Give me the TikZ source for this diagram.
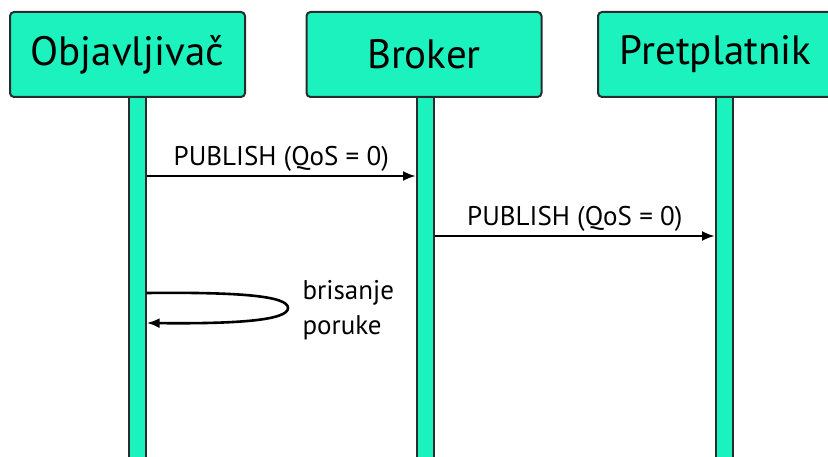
\documentclass[tikz,border=0pt]{standalone}
\usepackage{fontspec}
\setmainfont{PT Sans}
\usetikzlibrary{arrows.meta}
\definecolor{boxteal}{RGB}{28,242,190}
\definecolor{edge}{RGB}{40,44,44}
\begin{document}
\begin{tikzpicture}[x=1pt,y=-1pt,
	actor/.style={draw=edge,fill=boxteal,line width=2pt,rounded corners=4pt,minimum width=235pt,minimum height=85pt,inner sep=0pt,font=\fontsize{41}{46}\selectfont},
	lifeline/.style={draw=edge,fill=boxteal,line width=1.6pt,minimum width=17pt,minimum height=380pt,inner sep=0pt,anchor=north west},
	msg/.style={line width=2.6pt,-{Latex[length=13pt,width=10pt]}},
	lbl/.style={font=\fontsize{27}{35}\selectfont}]
	\useasboundingbox (0,0) rectangle (828,457);
	\clip (0,0) rectangle (828,457);
	% lifelines
	\node[lifeline] (objL) at (128,96) {};
	\node[lifeline] (brkL) at (416,96) {};
	\node[lifeline] (preL) at (715,96) {};
	% participants
	\node[actor] (obj) at (127.5,54.5) {Objavljivač};
	\node[actor] (brk) at (424,54.5) {Broker};
	\node[actor] (pre) at (715.5,54.5) {Pretplatnik};
	% messages
	\coordinate (m1) at (0,176);
	\coordinate (m2) at (0,236);
	\draw[msg] (objL.east|-m1)--node[lbl,above,inner sep=3pt]{PUBLISH (QoS = 0)}(brkL.west|-m1);
	\draw[msg] (brkL.east|-m2)--node[lbl,above,inner sep=3pt]{PUBLISH (QoS = 0)}(preL.west|-m2);
	% self message
	\coordinate (s1) at (0,293);
	\coordinate (s2) at (0,323);
	\draw[msg] (objL.east|-s1) .. controls (240,292) and (288,296) .. (288,308) .. controls (288,320) and (240,324) .. (objL.east|-s2);
	\node[lbl,align=left,anchor=west] (del) at (299,310) {brisanje\\poruke};
\end{tikzpicture}
\end{document}
